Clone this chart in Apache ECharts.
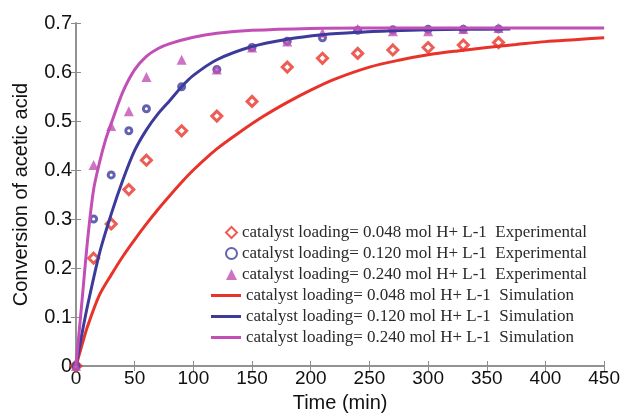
<!DOCTYPE html>
<html>
<head>
<meta charset="utf-8">
<script src="https://cdn.jsdelivr.net/npm/echarts@6/dist/echarts.min.js"></script>
<style>
html, body { margin: 0; padding: 0; background: #fff; }
#main { width: 623px; height: 418px; }
</style>
</head>
<body>
<div id="main"></div>
<script>
// experimental points
var expTime = [0, 15, 30, 45, 60, 90, 120, 150, 180, 210, 240, 270, 300, 330, 360];
var expLow  = [0, 0.22, 0.29, 0.36, 0.42, 0.48, 0.51, 0.54, 0.61, 0.628, 0.638, 0.645, 0.65, 0.655, 0.66];
var expMid  = [0, 0.30, 0.39, 0.48, 0.525, 0.57, 0.605, 0.65, 0.663, 0.67, 0.685, 0.686, 0.687, 0.687, 0.688];
var expHigh = [0, 0.41, 0.49, 0.52, 0.59, 0.625, 0.605, 0.65, 0.662, 0.68, 0.688, 0.683, 0.683, 0.688, 0.69];

// simulation curves
var simLowTime = [0, 5, 10, 20, 30, 40, 50, 60, 70, 80, 90, 100, 120, 140, 160, 180, 200, 220, 250, 275, 300, 325, 350, 375, 400, 425, 450];
var simLow     = [0, 0.042, 0.082, 0.145, 0.186, 0.224, 0.258, 0.29, 0.32, 0.348, 0.375, 0.4, 0.443, 0.478, 0.51, 0.538, 0.563, 0.585, 0.61, 0.624, 0.635, 0.643, 0.65, 0.656, 0.662, 0.666, 0.67];
var simMidTime = [0, 5, 10, 20, 30, 40, 50, 60, 70, 80, 90, 100, 120, 150, 180, 210, 240, 270, 300, 330, 370];
var simMid     = [0, 0.065, 0.125, 0.23, 0.31, 0.38, 0.44, 0.482, 0.515, 0.542, 0.57, 0.593, 0.625, 0.652, 0.667, 0.676, 0.681, 0.684, 0.686, 0.687, 0.688];
var simHighTime = [0, 5, 10, 15, 20, 25, 30, 40, 50, 60, 70, 80, 100, 120, 150, 200, 250, 300, 350, 400, 450];
var simHigh     = [0, 0.13, 0.26, 0.36, 0.415, 0.46, 0.495, 0.56, 0.605, 0.632, 0.648, 0.658, 0.671, 0.679, 0.685, 0.689, 0.69, 0.69, 0.69, 0.69, 0.69];

var xTicks = [0, 50, 100, 150, 200, 250, 300, 350, 400, 450];
var yTicks = [0, 0.1, 0.2, 0.3, 0.4, 0.5, 0.6, 0.7];

var names = [
    'catalyst loading= 0.048 mol H+ L-1  Experimental',
    'catalyst loading= 0.120 mol H+ L-1  Experimental',
    'catalyst loading= 0.240 mol H+ L-1  Experimental',
    'catalyst loading= 0.048 mol H+ L-1  Simulation',
    'catalyst loading= 0.120 mol H+ L-1  Simulation',
    'catalyst loading= 0.240 mol H+ L-1  Simulation'
];
var red = '#e8332b', blue = '#3c3b9c', magenta = '#c24fb5';

function pairs(t, v) {
    return t.map(function (x, i) { return [x, v[i]]; });
}

var axisGrey = '#8c8c8c';
var legendText = { fontFamily: 'Liberation Serif', fontSize: 17, color: '#2a2a2a' };
var myChart = echarts.init(document.getElementById('main'));
var option = {
    animation: false,
    grid: { left: 76, right: 18, top: 23, bottom: 46 },
    legend: [{
        // markers
        orient: 'vertical',
        left: 225, top: 224, padding: 0,
        itemWidth: 11, itemHeight: 11, itemGap: 4,
        textStyle: legendText,
        data: names.slice(0, 3)
    }, {
        // lines
        orient: 'vertical',
        left: 211, top: 287, padding: 0,
        itemWidth: 30, itemHeight: 3, itemGap: 4,
        icon: 'rect',
        textStyle: legendText,
        data: names.slice(3)
    }],
    xAxis: [{
        type: 'value', min: 0, max: 450, interval: 50,
        name: 'Time (min)', nameLocation: 'middle', nameGap: 27,
        nameTextStyle: { fontFamily: 'Liberation Sans', fontSize: 20, color: '#111' },
        axisLine: { lineStyle: { color: axisGrey, width: 1.5 } },
        axisTick: { inside: true, length: 5, lineStyle: { color: axisGrey } },
        axisLabel: { fontFamily: 'Liberation Sans', fontSize: 19, color: '#111', margin: 3 },
        splitLine: { show: false }
    }, {
        type: 'value', min: 0, max: 450, interval: 50, position: 'top',
        axisLine: { show: true, lineStyle: { color: axisGrey, width: 1.5 } },
        axisTick: { inside: true, length: 5, lineStyle: { color: axisGrey } },
        axisLabel: { show: false },
        splitLine: { show: false }
    }],
    yAxis: [{
        type: 'value', min: 0, max: 0.7, interval: 0.1,
        name: 'Conversion of acetic acid', nameLocation: 'middle', nameGap: 45,
        nameTextStyle: { fontFamily: 'Liberation Sans', fontSize: 20, color: '#111' },
        axisLine: { show: true, lineStyle: { color: axisGrey, width: 1.5 } },
        axisTick: { show: true, inside: true, length: 5, lineStyle: { color: axisGrey } },
        axisLabel: {
            fontFamily: 'Liberation Sans', fontSize: 20, color: '#111', margin: 4,
            formatter: function (v) { return v === 0 ? '0' : v.toFixed(1); }
        },
        splitLine: { show: false }
    }, {
        type: 'value', min: 0, max: 0.7, interval: 0.1, position: 'right',
        axisLine: { show: true, lineStyle: { color: axisGrey, width: 1.5 } },
        axisTick: { show: true, inside: true, length: 5, lineStyle: { color: axisGrey } },
        axisLabel: { show: false },
        splitLine: { show: false }
    }],
    series: [{
        name: names[0], type: 'scatter', symbol: 'diamond', symbolSize: 10,
        itemStyle: { color: '#fff', borderColor: red, borderWidth: 3 },
        data: pairs(expTime, expLow)
    }, {
        name: names[1], type: 'scatter', symbol: 'circle', symbolSize: 6,
        itemStyle: { color: '#fff', borderColor: blue, borderWidth: 3 },
        data: pairs(expTime, expMid)
    }, {
        name: names[2], type: 'scatter', symbol: 'triangle', symbolSize: 10,
        itemStyle: { color: magenta },
        data: pairs(expTime, expHigh)
    }, {
        name: names[3], type: 'line', symbol: 'none', smooth: 0.3,
        lineStyle: { color: red, width: 3 }, itemStyle: { color: red },
        data: pairs(simLowTime, simLow)
    }, {
        name: names[4], type: 'line', symbol: 'none', smooth: 0.3,
        lineStyle: { color: blue, width: 3 }, itemStyle: { color: blue },
        data: pairs(simMidTime, simMid)
    }, {
        name: names[5], type: 'line', symbol: 'none', smooth: 0.3,
        lineStyle: { color: magenta, width: 3 }, itemStyle: { color: magenta },
        data: pairs(simHighTime, simHigh)
    }]
};
myChart.setOption(option);

window.onresize = function () {
    myChart.resize();
};
</script>
</body>
</html>
